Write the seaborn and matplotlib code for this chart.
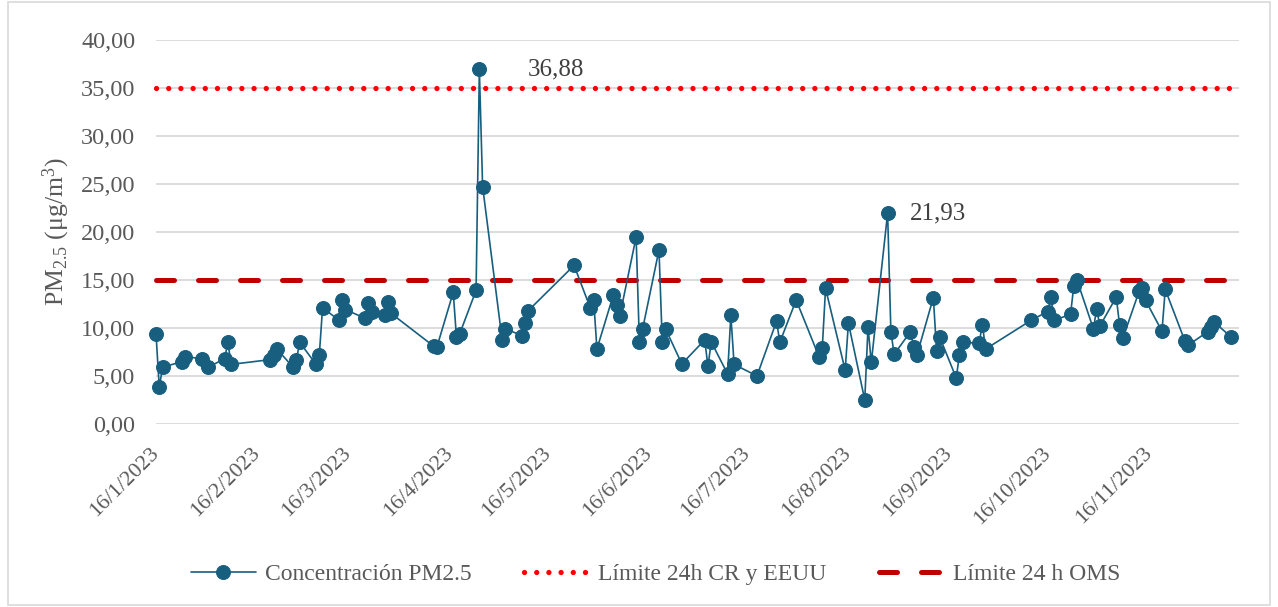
import matplotlib
matplotlib.use("Agg")
import matplotlib.pyplot as plt
import matplotlib.patches as mpatches
import pandas as pd
import seaborn as sns

# Muestreo PM2.5 2023 (lunes a miércoles)
dates = ["2023-01-16", "2023-01-17", "2023-01-18", "2023-01-24", "2023-01-25", "2023-01-30", "2023-02-01",
         "2023-02-06", "2023-02-07", "2023-02-08", "2023-02-20", "2023-02-21", "2023-02-22",
         "2023-02-27", "2023-02-28", "2023-03-01", "2023-03-06", "2023-03-07", "2023-03-08",
         "2023-03-13", "2023-03-14", "2023-03-15", "2023-03-21", "2023-03-22", "2023-03-23",
         "2023-03-27", "2023-03-28", "2023-03-29", "2023-04-11", "2023-04-12",
         "2023-04-17", "2023-04-18", "2023-04-19", "2023-04-24", "2023-04-25", "2023-04-26",
         "2023-05-02", "2023-05-03", "2023-05-08", "2023-05-09", "2023-05-10", "2023-05-24",
         "2023-05-29", "2023-05-30", "2023-05-31", "2023-06-05", "2023-06-06", "2023-06-07",
         "2023-06-12", "2023-06-13", "2023-06-14", "2023-06-19", "2023-06-20", "2023-06-21", "2023-06-26",
         "2023-07-03", "2023-07-04", "2023-07-05", "2023-07-10", "2023-07-11", "2023-07-12", "2023-07-19",
         "2023-07-25", "2023-07-26", "2023-07-31", "2023-08-07", "2023-08-08", "2023-08-09",
         "2023-08-15", "2023-08-16", "2023-08-21", "2023-08-22", "2023-08-23",
         "2023-08-28", "2023-08-29", "2023-08-30", "2023-09-04", "2023-09-05", "2023-09-06",
         "2023-09-11", "2023-09-12", "2023-09-13", "2023-09-18", "2023-09-19", "2023-09-20",
         "2023-09-25", "2023-09-26", "2023-09-27", "2023-10-11", "2023-10-16", "2023-10-17", "2023-10-18",
         "2023-10-23", "2023-10-24", "2023-10-25", "2023-10-30", "2023-10-31", "2023-11-01",
         "2023-11-06", "2023-11-07", "2023-11-08", "2023-11-13", "2023-11-14", "2023-11-15",
         "2023-11-20", "2023-11-21", "2023-11-27", "2023-11-28",
         "2023-12-04", "2023-12-05", "2023-12-06", "2023-12-11"]
pm25 = [9.4, 3.8, 5.9, 6.5, 7.0, 6.8, 5.9,
        6.8, 8.5, 6.2, 6.7, 7.2, 7.8,
        5.9, 6.7, 8.5, 6.2, 7.2, 12.1,
        10.8, 12.9, 11.9, 11.0, 12.6, 11.7,
        11.35, 12.7, 11.5, 8.1, 8.0,
        13.7, 9.0, 9.4, 13.9, 36.88, 24.7,
        8.7, 9.9, 9.2, 10.55, 11.8, 16.5,
        12.05, 12.9, 7.8, 13.4, 12.4, 11.25,
        19.45, 8.5, 9.9, 18.1, 8.5, 9.9, 6.25,
        8.75, 6.0, 8.55, 5.2, 11.3, 6.2, 5.0,
        10.7, 8.5, 12.9, 7.0, 7.95, 14.1,
        5.6, 10.5, 2.5, 10.1, 6.4,
        21.93, 9.6, 7.25, 9.6, 8.0, 7.2,
        13.15, 7.6, 9.0, 4.8, 7.2, 8.5,
        8.4, 10.35, 7.8, 10.8, 11.7, 13.2, 10.8,
        11.4, 14.35, 14.95, 9.9, 11.95, 10.2,
        13.2, 10.35, 8.9, 13.8, 14.15, 12.85,
        9.65, 14.0, 8.65, 8.2,
        9.6, 10.1, 10.6, 9.1]

limite_cr_eeuu = 35.0
limite_oms = 15.0
tick_dates = ["2023-01-16", "2023-02-16", "2023-03-16", "2023-04-16", "2023-05-16", "2023-06-16",
              "2023-07-16", "2023-08-16", "2023-09-16", "2023-10-16", "2023-11-16"]
tick_labels = ["16/1/2023", "16/2/2023", "16/3/2023", "16/4/2023", "16/5/2023", "16/6/2023",
               "16/7/2023", "16/8/2023", "16/9/2023", "16/10/2023", "16/11/2023"]
y_ticks = [0, 5, 10, 15, 20, 25, 30, 35, 40]
picos = ["2023-04-25", "2023-08-28"]

df = pd.DataFrame({"fecha": pd.to_datetime(dates), "pm25": pm25})

sns.set_style("white")
plt.rcParams["font.family"] = ["Liberation Serif", "DejaVu Serif"]
plt.rcParams["mathtext.fontset"] = "custom"
plt.rcParams["mathtext.rm"] = "Liberation Serif"
plt.rcParams["mathtext.it"] = "Liberation Serif:italic"

gris = "#595959"
azul = "#175e7f"

fig = plt.figure(figsize=(12.78, 6.07), dpi=100)
ax = fig.add_axes([156 / 1278, 1 - 424 / 607, (1239 - 156) / 1278, (424 - 39.5) / 607])

ax.axhline(limite_cr_eeuu, color="#ff0000", lw=3.8, linestyle=(0, (0.01, 2.3)),
           dash_capstyle="round", label="Límite 24h CR y EEUU", zorder=2)
ax.axhline(limite_oms, color="#c00000", lw=3.6, linestyle=(0, (3.6, 4.8)),
           dash_capstyle="round", label="Límite 24 h OMS", zorder=2)
sns.lineplot(data=df, x="fecha", y="pm25", ax=ax, color=azul, lw=1.2, marker="o",
             markersize=10, markeredgecolor=azul, label="Concentración PM2.5", zorder=3)
for ln in ax.lines:
    ln.set_clip_on(False)

# etiquetas de los picos
for d, off in zip(picos, [35, 16]):
    row = df[df.fecha == pd.Timestamp(d)].iloc[0]
    ax.annotate(f"{row.pm25:.2f}".replace(".", ","), (row.fecha, row.pm25),
                xytext=(off, 0), textcoords="offset points", va="center", ha="left",
                fontsize=18, color="#404040")

ax.set_ylim(0, 40)
ax.set_xlim(pd.Timestamp("2023-01-16"), pd.Timestamp("2023-12-13 14:00"))
ax.set_yticks(y_ticks)
ax.set_yticklabels([f"{v:.2f}".replace(".", ",") for v in y_ticks], fontsize=17.5, color=gris)
ax.set_xticks(pd.to_datetime(tick_dates))
ax.set_xticklabels(tick_labels, fontsize=15.8, color=gris, rotation=45, ha="right",
                   va="center", rotation_mode="anchor")
ax.tick_params(axis="both", length=0)
ax.tick_params(axis="y", pad=15)
ax.tick_params(axis="x", pad=19)
ax.grid(axis="y", color="#d9d9d9", lw=1.3)
ax.grid(axis="x", visible=False)
for s in ax.spines.values():
    s.set_visible(False)
ax.set_xlabel("")
ax.set_ylabel(r"PM$_{2.5}$ ($\mathrm{\mu}$g/m$^{3}$)", fontsize=18.5, color=gris, labelpad=6)

handles, labels = ax.get_legend_handles_labels()
order = [labels.index("Concentración PM2.5"), labels.index("Límite 24h CR y EEUU"),
         labels.index("Límite 24 h OMS")]
fig.legend([handles[i] for i in order], [labels[i] for i in order], loc="center",
           bbox_to_anchor=(0.513, 1 - 574 / 607), ncol=3, frameon=False, fontsize=17,
           labelcolor=gris, handlelength=2.75, columnspacing=2.2, handletextpad=0.4)
if ax.get_legend() is not None:
    ax.get_legend().remove()

fig.patches.append(mpatches.Rectangle((8 / 1278, 2 / 607), 1262 / 1278, 603 / 607,
                                      transform=fig.transFigure, fill=False,
                                      edgecolor="#d9d9d9", lw=1.2))

fig.savefig("out.png", dpi=100)
